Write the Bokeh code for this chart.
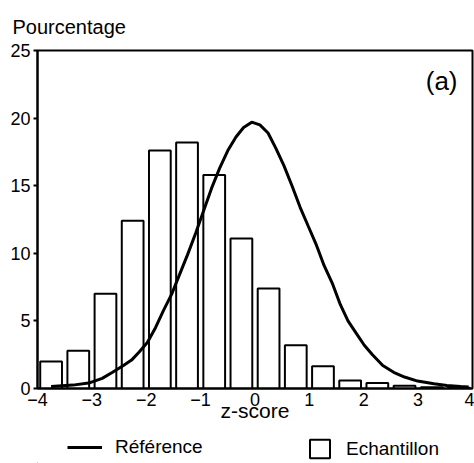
from bokeh.plotting import figure
from bokeh.layouts import column
from bokeh.models import Range1d, FixedTicker, Label, Legend, LegendItem
from bokeh.embed import file_html
from bokeh.resources import INLINE

# Histogram (Echantillon): bin centres (z-score) and percentages
bin_centers = [-3.75, -3.25, -2.75, -2.25, -1.75, -1.25, -0.75, -0.25,
               0.25, 0.75, 1.25, 1.75, 2.25, 2.75, 3.25, 3.75]
bin_pct = [2.0, 2.8, 7.0, 12.4, 17.6, 18.2, 15.8, 11.1,
           7.4, 3.2, 1.65, 0.6, 0.4, 0.2, 0.1, 0.05]

# Reference curve, points
curve_z = [-3.75, -3.35, -3.06, -2.81, -2.62, -2.42, -2.27, -2.13, -1.98, -1.83,
           -1.68, -1.53, -1.39, -1.24, -1.09, -0.94, -0.80, -0.65, -0.50, -0.35,
           -0.21, -0.06, 0.09, 0.24, 0.38, 0.53, 0.68, 0.83, 0.98, 1.12,
           1.27, 1.42, 1.57, 1.71, 1.86, 2.01, 2.16, 2.35, 2.55, 2.75,
           2.99, 3.29, 3.53, 3.78, 3.93]
curve_pct = [0.15, 0.25, 0.4, 0.75, 1.2, 1.7, 2.1, 2.7, 3.4, 4.5,
             5.8, 7.0, 8.4, 9.9, 11.5, 13.2, 14.8, 16.3, 17.6, 18.6,
             19.3, 19.7, 19.5, 18.9, 17.8, 16.5, 15.0, 13.4, 12.0, 10.7,
             9.1, 7.8, 6.2, 5.0, 4.1, 3.2, 2.5, 1.7, 1.2, 0.85,
             0.55, 0.35, 0.22, 0.15, 0.12]

x_ticks = [-4, -3, -2, -1, 0, 1, 2, 3, 4]
y_ticks = [0, 5, 10, 15, 20, 25]

FONT = "Liberation Sans"

p = figure(width=474, height=430, output_backend="svg", toolbar_location=None,
           x_range=Range1d(-4, 4), y_range=Range1d(0, 25),
           min_border_left=37, min_border_right=2, min_border_top=50,
           min_border_bottom=42)
p.grid.visible = False
p.outline_line_color = "black"
p.outline_line_width = 2
p.background_fill_color = "white"
p.border_fill_color = "white"

bars = p.vbar(x=bin_centers, top=bin_pct, bottom=0, width=0.4,
              fill_color="white", line_color="black", line_width=2)
curve = p.line(curve_z, curve_pct, line_color="black", line_width=3)

# title used as the y-axis caption
p.title.text = "Pourcentage"
p.title.align = "left"
p.title.offset = -25
p.title.standoff = 26
p.title.text_font = FONT
p.title.text_font_size = "20px"
p.title.text_font_style = "normal"
p.title.text_color = "black"

# axes
p.xaxis.ticker = FixedTicker(ticks=x_ticks)
p.yaxis.ticker = FixedTicker(ticks=y_ticks)
for ax in (p.xaxis[0], p.yaxis[0]):
    ax.axis_line_color = "black"
    ax.axis_line_width = 2
    ax.major_tick_line_color = "black"
    ax.major_tick_line_width = 2
    ax.minor_tick_line_color = None
    ax.major_label_text_font = FONT
    ax.major_label_text_font_size = "18px"
    ax.major_label_text_color = "black"
p.xaxis.major_tick_out = 0
p.xaxis.major_tick_in = 0
p.xaxis.major_label_standoff = 4
p.yaxis.major_tick_out = 4
p.yaxis.major_tick_in = 0
p.yaxis.major_label_standoff = 3

p.xaxis.axis_label = "z-score"
p.xaxis.axis_label_text_font = FONT
p.xaxis.axis_label_text_font_size = "21px"
p.xaxis.axis_label_text_font_style = "normal"
p.xaxis.axis_label_text_color = "black"
p.xaxis.axis_label_standoff = -10

p.add_layout(Label(x=3.14, y=22.75, text="(a)", text_font=FONT,
                   text_font_size="26px", text_color="black",
                   text_baseline="alphabetic"))

# legend strip below the chart
pl = figure(width=474, height=33, output_backend="svg", toolbar_location=None,
            x_range=Range1d(0, 1), y_range=Range1d(0, 1),
            x_axis_location=None, y_axis_location=None, min_border=0)
pl.grid.visible = False
pl.outline_line_color = None
pl.background_fill_color = "white"
pl.border_fill_color = "white"
# legend swatch renderers, kept outside the visible range
leg_line = pl.line([-10, -9], [-10, -10], line_color="black", line_width=3)
leg_bar = pl.vbar(x=[-10], top=[-9], bottom=-10, width=0.4, fill_color="white",
                  line_color="black", line_width=2)

common = dict(orientation="horizontal", border_line_color=None,
              background_fill_alpha=0, padding=0, margin=0,
              label_text_font=FONT, label_text_font_size="19px",
              label_text_color="black")
leg1 = Legend(items=[LegendItem(label="Référence", renderers=[leg_line])],
              location=(30, 5), glyph_width=35, glyph_height=20,
              label_standoff=13, **common)
leg2 = Legend(items=[LegendItem(label="Echantillon", renderers=[leg_bar])],
              location=(270, 3), glyph_width=25, glyph_height=23,
              label_standoff=14, **common)
pl.add_layout(leg1)
pl.add_layout(leg2)

layout = column(p, pl, spacing=0)
open("out.html", "w").write(file_html(layout, INLINE))
